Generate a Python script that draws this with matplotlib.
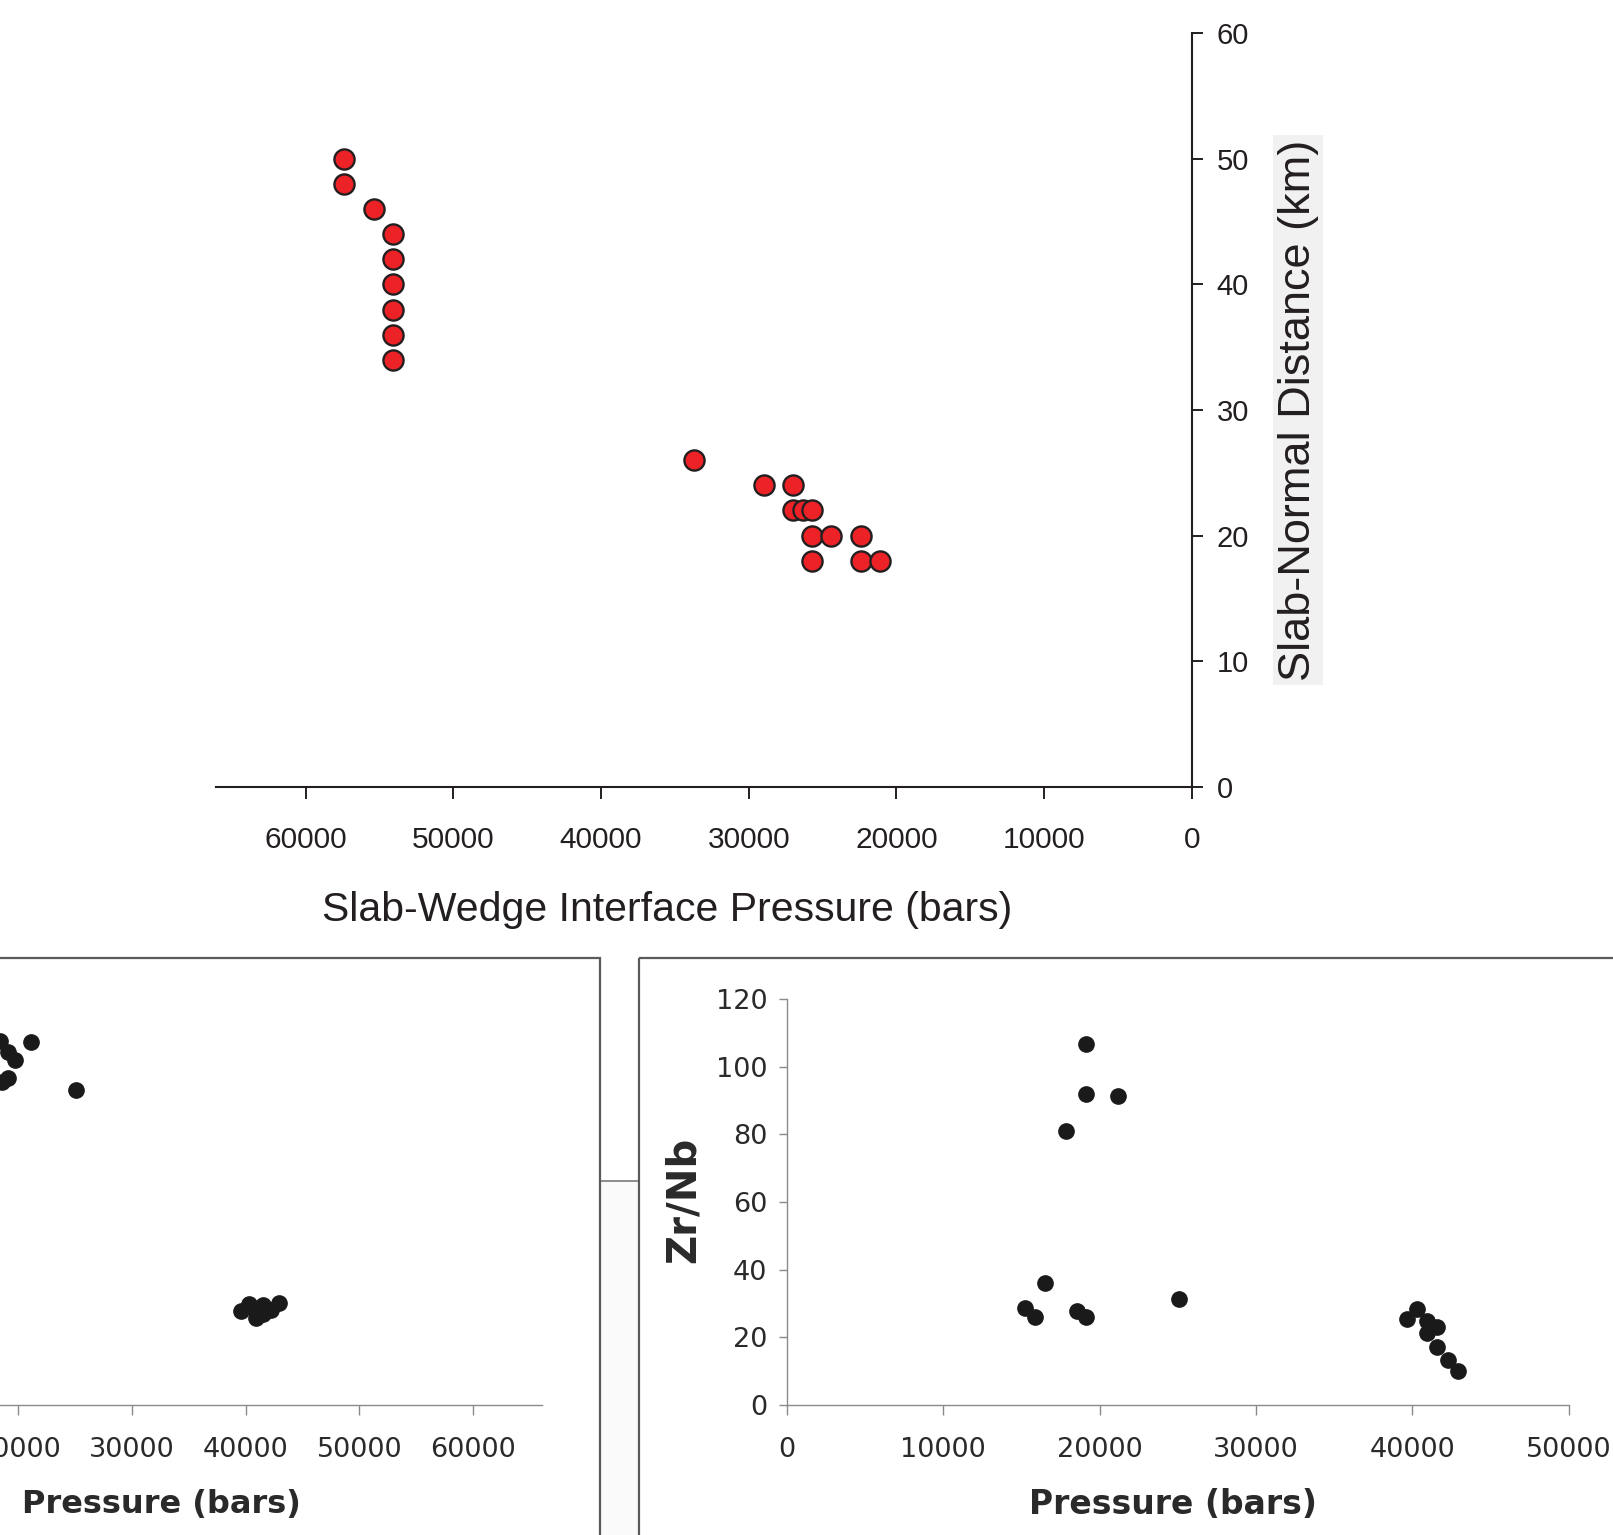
import matplotlib
matplotlib.use("Agg")
import matplotlib.pyplot as plt
from matplotlib.patches import Rectangle

# ---------------- data ----------------
# Top panel: slab-wedge interface pressure (bars) vs slab-normal distance (km)
top_pressure = [57400, 57400, 55400, 54100, 54100, 54100, 54100, 54100, 54100,
                33700, 29000, 27000, 27000, 26300, 25700, 25700, 24400, 22400,
                25700, 22400, 21100]
top_distance = [50, 48, 46, 44, 42, 40, 38, 36, 34,
                26, 24, 24, 22, 22, 22, 20, 20, 20,
                18, 18, 18]
top_xticks = [60000, 50000, 40000, 30000, 20000, 10000, 0]
top_yticks = [0, 10, 20, 30, 40, 50, 60]

# Bottom-left panel (partially visible): pressure vs unseen ratio
left_pressure = [18450, 19170, 19750, 21130, 19170, 18600, 25080,
                 39630, 40280, 40920, 40920, 41570, 41570, 42260, 42910]
left_ratio = [107.5, 104.4, 102.0, 107.2, 96.5, 95.5, 93.1,
              27.8, 29.8, 27.5, 25.7, 29.6, 26.9, 28.1, 30.1]
left_xticks = [0, 10000, 20000, 30000, 40000, 50000, 60000]

# Bottom-right panel: pressure vs Zr/Nb
right_pressure = [19130, 19130, 21150, 17830, 16530, 15240, 15840, 18520, 19130,
                  25080, 39630, 40280, 40920, 40920, 41570, 41570, 42260, 42910]
right_zrnb = [106.6, 91.9, 91.4, 80.9, 36.1, 28.6, 25.9, 27.7, 25.9,
              31.4, 25.3, 28.3, 24.9, 21.4, 23.0, 17.1, 13.3, 10.0]
right_xticks = [0, 10000, 20000, 30000, 40000, 50000]
right_yticks = [0, 20, 40, 60, 80, 100, 120]

# ---------------- figure ----------------
W, H = 1613, 1535
fig = plt.figure(figsize=(W / 100, H / 100), dpi=100)
fig.patch.set_facecolor("white")

# background layer for the panel frames (pixel coordinates)
bg = fig.add_axes([0, 0, 1, 1], zorder=0)
bg.set_xlim(0, W)
bg.set_ylim(H, 0)
bg.axis("off")
bg.add_patch(Rectangle((599.7, 1181), 39.1, 500, fc="#fafafa", ec="#7a7a7a", lw=1.2))
bg.add_patch(Rectangle((-20, 957.7), 599.7 + 20, 700, fill=False, ec="#5a5a5a", lw=1.6))
bg.add_patch(Rectangle((638.8, 957.7), 1100, 700, fill=False, ec="#5a5a5a", lw=1.6))

def rect(left, top, right, bottom):
    return [left / W, 1 - bottom / H, (right - left) / W, (bottom - top) / H]

dark = "#231f20"
arial = ["Liberation Sans", "DejaVu Sans"]
verd = ["DejaVu Sans"]

# ---------------- top panel ----------------
ax1 = fig.add_axes(rect(216, 33.3, 1191.7, 786.7), zorder=2)
ax1.patch.set_visible(False)
ax1.plot(top_pressure, top_distance, "o", ms=14.5, mfc="#ec2227", mec=dark,
         mew=1.7, ls="none", zorder=3, clip_on=False)
ax1.set_xlim(66080, 0)
ax1.set_ylim(0, 60)
for s in ("top", "left"):
    ax1.spines[s].set_visible(False)
for s in ("bottom", "right"):
    ax1.spines[s].set_color(dark)
    ax1.spines[s].set_linewidth(1.5)
ax1.yaxis.tick_right()
ax1.set_xticks(top_xticks)
ax1.set_xticklabels([str(v) for v in top_xticks], family=arial)
ax1.set_yticks(top_yticks)
ax1.set_yticklabels([str(v) for v in top_yticks], family=arial)
ax1.tick_params(axis="x", direction="out", length=8.6, width=1.4, color=dark,
                labelsize=21.5, labelcolor=dark, pad=20)
ax1.tick_params(axis="y", direction="out", length=8, width=1.4, color=dark,
                labelsize=21, labelcolor=dark, pad=10)
ax1.set_xlabel("Slab-Wedge Interface Pressure (bars)", family=arial, fontsize=29.5,
               color=dark)
ax1.xaxis.set_label_coords(0.462, -0.163)
ax1.xaxis.label.set_va("center")
ax1.yaxis.set_label_position("right")
ax1.set_ylabel("Slab-Normal Distance (km)", family=arial, fontsize=32.5, color=dark,
               bbox=dict(facecolor="#f1f1f1", edgecolor="none", pad=3))
ax1.yaxis.set_label_coords(1.109, 0.5)
ax1.yaxis.label.set_va("center")

# ---------------- bottom panels ----------------
grey = "#8a8a8a"
tick_col = "#2a2a2a"

ax2 = fig.add_axes([-210 / W, 1 - 1405 / H, 751.7 / W, 406.1 / H], zorder=2)
ax2.patch.set_visible(False)
ax2.plot(left_pressure, left_ratio, "o", ms=11, color="#1a1a1a", ls="none")
ax2.set_xlim(0, 66000)
ax2.set_ylim(0, 120)
for s in ("top", "right"):
    ax2.spines[s].set_visible(False)
for s in ("bottom", "left"):
    ax2.spines[s].set_color(grey)
    ax2.spines[s].set_linewidth(1.0)
ax2.set_xticks(left_xticks)
ax2.set_xticklabels([str(v) for v in left_xticks], family=verd)
ax2.set_yticks([])
ax2.tick_params(axis="x", direction="out", length=7, width=1.0, color=grey,
                labelsize=19.5, labelcolor=tick_col, pad=16)
ax2.set_xlabel("Pressure (bars)", family=verd, fontsize=23, fontweight="bold",
               color=tick_col)
ax2.xaxis.set_label_coords(0.4935, -0.244)
ax2.xaxis.label.set_va("center")

ax3 = fig.add_axes([787 / W, 1 - 1405 / H, 781.8 / W, 406.1 / H], zorder=2)
ax3.patch.set_visible(False)
ax3.plot(right_pressure, right_zrnb, "o", ms=11, color="#1a1a1a", ls="none")
ax3.set_xlim(0, 50000)
ax3.set_ylim(0, 120)
for s in ("top", "right"):
    ax3.spines[s].set_visible(False)
for s in ("bottom", "left"):
    ax3.spines[s].set_color(grey)
    ax3.spines[s].set_linewidth(1.0)
ax3.set_xticks(right_xticks)
ax3.set_xticklabels([str(v) for v in right_xticks], family=verd)
ax3.set_yticks(right_yticks)
ax3.set_yticklabels([str(v) for v in right_yticks], family=verd)
ax3.tick_params(axis="x", direction="out", length=7, width=1.0, color=grey,
                labelsize=19.5, labelcolor=tick_col, pad=16)
ax3.tick_params(axis="y", direction="out", length=6, width=1.0, color=grey,
                labelsize=19.5, labelcolor=tick_col, pad=8)
ax3.set_xlabel("Pressure (bars)", family=verd, fontsize=23.8, fontweight="bold",
               color=tick_col)
ax3.xaxis.set_label_coords(0.4934, -0.244)
ax3.xaxis.label.set_va("center")
ax3.set_ylabel("Zr/Nb", family=verd, fontsize=29, fontweight="bold", color=tick_col)
ax3.yaxis.set_label_coords(-0.1317, 0.505)
ax3.yaxis.label.set_va("center")

fig.savefig("out.png", dpi=100)
